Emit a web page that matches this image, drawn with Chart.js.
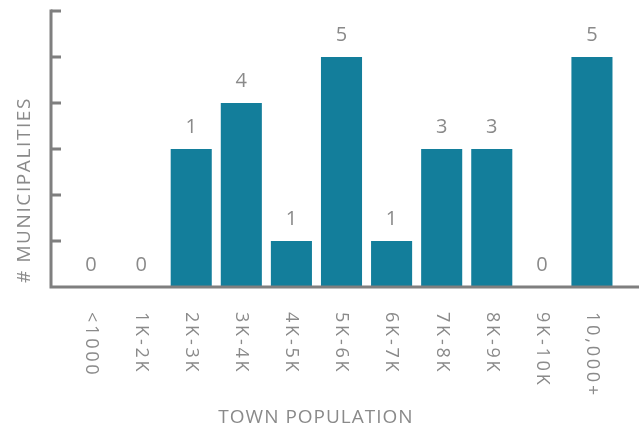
<!DOCTYPE html>
<html><head><meta charset="utf-8">
<script src="https://cdn.jsdelivr.net/npm/chart.js@4/dist/chart.umd.min.js"></script>
<style>html,body{margin:0;padding:0;background:#fff}#wrap{width:639px;height:430px}</style>
</head><body><div id="wrap"><canvas id="c" width="639" height="430"></canvas></div>
<script>
const categories = ["<1000","1K-2K","2K-3K","3K-4K","4K-5K","5K-6K","6K-7K","7K-8K","8K-9K","9K-10K","10,000+"];
const barValues = [0,0,3,4,1,5,1,3,3,0,5];
const barLabels = ["0","0","1","4","1","5","1","3","3","0","5"];
const yTicks = [0,1,2,3,4,5,6];
const xTitle = "TOWN POPULATION";
const yTitle = "# MUNICIPALITIES";

const GRAY = "#8a8a8a";
const AXIS = "#7f7f7f";
const FONT = "'Open Sans', sans-serif";

const deco = {
  id: 'deco',
  afterDatasetsDraw(chart) {
    const ctx = chart.ctx, ys = chart.scales.y, xs = chart.scales.x, ca = chart.chartArea;
    ctx.save();
    // data labels
    ctx.fillStyle = GRAY;
    ctx.font = "20px " + FONT;
    ctx.textAlign = "center";
    ctx.textBaseline = "middle";
    const meta = chart.getDatasetMeta(0);
    meta.data.forEach((bar, i) => {
      ctx.fillText(barLabels[i], bar.x, bar.y - 22);
    });
    // axes
    const axX = ca.left - 15;
    ctx.strokeStyle = AXIS;
    ctx.lineWidth = 3;
    ctx.beginPath();
    ctx.moveTo(axX, ys.getPixelForValue(yTicks[yTicks.length-1]) - 1.5);
    ctx.lineTo(axX, ys.getPixelForValue(0));
    ctx.lineTo(chart.width, ys.getPixelForValue(0));
    ctx.stroke();
    ctx.beginPath();
    yTicks.forEach(v => {
      if (v === 0) return;
      const py = ys.getPixelForValue(v);
      ctx.moveTo(axX, py);
      ctx.lineTo(axX + 10, py);
    });
    ctx.stroke();
    // x tick labels rotated clockwise
    ctx.font = "18px " + FONT;
    ctx.letterSpacing = "2.8px";
    ctx.textAlign = "left";
    ctx.textBaseline = "middle";
    categories.forEach((c, i) => {
      const px = xs.getPixelForValue(i);
      ctx.save();
      ctx.translate(px, ys.getPixelForValue(0) + 25);
      ctx.rotate(Math.PI / 2);
      ctx.fillText(c, 0, 0);
      ctx.restore();
    });
    // x title
    ctx.font = "19px " + FONT;
    ctx.letterSpacing = "1px";
    ctx.textAlign = "center";
    ctx.fillText(xTitle, 316, 418);
    // y title
    ctx.letterSpacing = "1.6px";
    ctx.save();
    ctx.translate(25, 190);
    ctx.rotate(-Math.PI / 2);
    ctx.fillText(yTitle, 0, 0);
    ctx.restore();
    ctx.restore();
  }
};

new Chart(document.getElementById('c'), {
  type: 'bar',
  data: {
    labels: categories,
    datasets: [{
      data: barValues,
      backgroundColor: "#137e9b",
      barPercentage: 0.82,
      categoryPercentage: 1.0
    }]
  },
  options: {
    responsive: false,
    animation: false,
    devicePixelRatio: 1,
    layout: { padding: { left: 66, right: 22, top: 11, bottom: 143 } },
    plugins: { legend: { display: false }, tooltip: { enabled: false } },
    scales: {
      x: { display: false },
      y: { display: false, min: 0, max: 6 }
    }
  },
  plugins: [deco]
});
</script>
</body></html>
